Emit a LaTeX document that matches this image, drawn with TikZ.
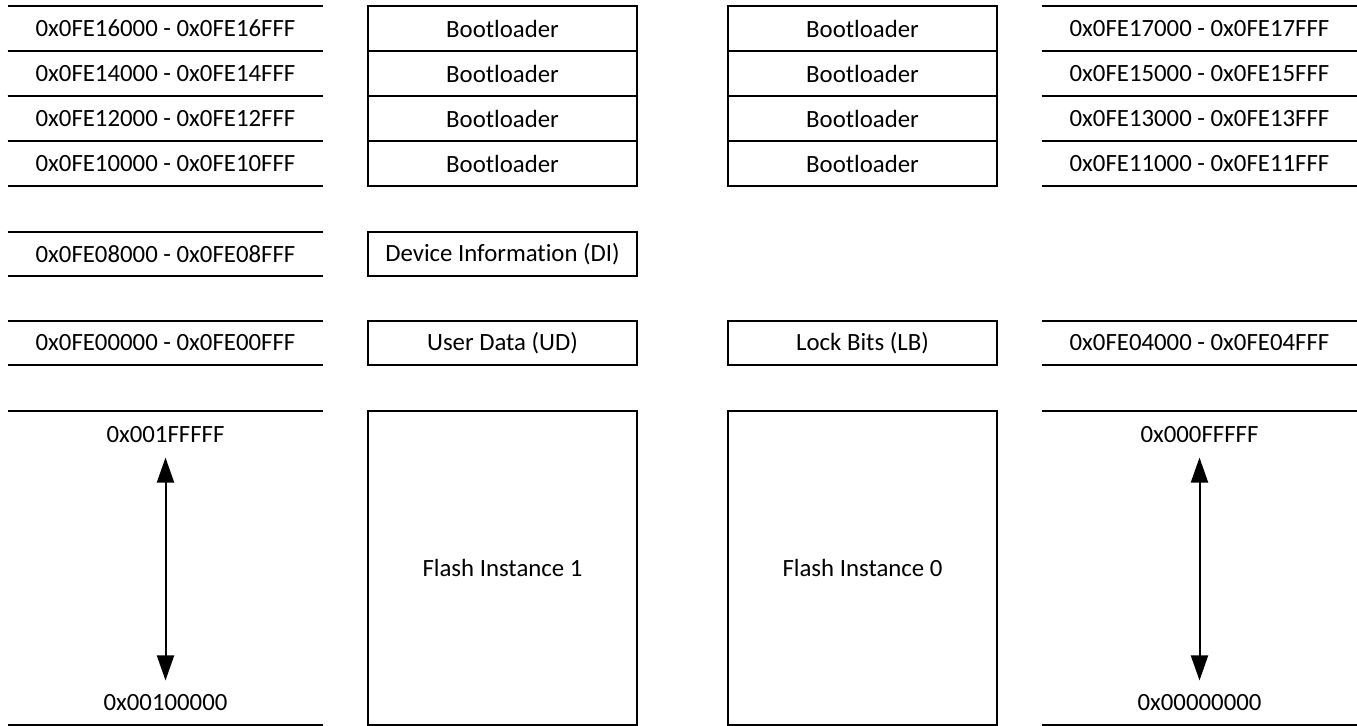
\documentclass[tikz,border=0pt]{standalone}
\usepackage{fontspec}
\setmainfont{Carlito}[Ligatures=NoCommon]
\usetikzlibrary{arrows.meta, positioning}

\begin{document}
\begin{tikzpicture}[x=0.5pt, y=-0.5pt,
	>={Triangle[length=12.5pt, width=8.5pt]},
	every node/.style={font=\fontsize{12.4}{15}\selectfont, inner sep=0pt},
	region/.style={draw, line width=1pt, minimum width=134.5pt, minimum height=22.5pt},
	addr/.style={minimum width=157.5pt, minimum height=22.5pt},
	rule/.style={line width=1pt}]
				% ============================================================
				% 1 jedn. = 1 px obrazka (1357 x 725), os y w dol
				% ============================================================
				\useasboundingbox (0,0) rectangle (1357,725);
				
				% === 1. BOOTLOADER: 4 wiersze po 45 px ===
				\foreach \i/\addL/\addR in {0/16/17, 1/14/15, 2/12/13, 3/10/11} {
					\pgfmathsetmacro{\yc}{28.5 + \i * 45}
					\node[addr] (bl\i) at (165.5, \yc) {0x0FE\addL000 - 0x0FE\addL FFF};
					\node[region] (bootA\i) at (502.5, \yc) {Bootloader};
					\node[region] (bootB\i) at (862.5, \yc) {Bootloader};
					\node[addr] (br\i) at (1199.5, \yc) {0x0FE\addR000 - 0x0FE\addR FFF};
					\draw[rule] (bl\i.north west) -- (bl\i.north east);
					\draw[rule] (bl\i.south west) -- (bl\i.south east);
					\draw[rule] (br\i.north west) -- (br\i.north east);
					\draw[rule] (br\i.south west) -- (br\i.south east);
				}
				
				% === 2. DEVICE INFORMATION ===
				\node[addr, minimum height=22pt] (dil) at (165.5, 254) {0x0FE08000 - 0x0FE08FFF};
				\node[region, minimum height=22pt] (di) at (502.5, 254) {Device Information (DI)};
				\draw[rule] (dil.north west) -- (dil.north east);
				\draw[rule] (dil.south west) -- (dil.south east);
				
				% === 3. USER DATA / LOCK BITS ===
				\node[addr, minimum height=22pt] (udl) at (165.5, 343) {0x0FE00000 - 0x0FE00FFF};
				\node[region, minimum height=22pt] (ud) at (502.5, 343) {User Data (UD)};
				\node[region, minimum height=22pt] (lb) at (862.5, 343) {Lock Bits (LB)};
				\node[addr, minimum height=22pt] (lbr) at (1199.5, 343) {0x0FE04000 - 0x0FE04FFF};
				\draw[rule] (udl.north west) -- (udl.north east);
				\draw[rule] (udl.south west) -- (udl.south east);
				\draw[rule] (lbr.north west) -- (lbr.north east);
				\draw[rule] (lbr.south west) -- (lbr.south east);
				
				% === 4. FLASH ===
				\node[region, minimum height=157pt] (flash1) at (502.5, 567.5) {Flash Instance 1};
				\node[region, minimum height=157pt] (flash0) at (862.5, 567.5) {Flash Instance 0};
				\draw[rule] (8, 410.5) -- (323, 410.5);
				\draw[rule] (8, 724.5) -- (323, 724.5);
				\draw[rule] (1042, 410.5) -- (1357, 410.5);
				\draw[rule] (1042, 724.5) -- (1357, 724.5);
				
				% === 5. ZAKRESY ADRESOW ===
				\node (hi1) at (165.5, 435) {0x001FFFFF};
				\node (lo1) at (165.5, 703) {0x00100000};
				\node (hi0) at (1199.5, 435) {0x000FFFFF};
				\node (lo0) at (1199.5, 703) {0x00000000};
				\draw[<->, line width=1pt, shorten <=7pt, shorten >=7pt] (hi1) -- (lo1);
				\draw[<->, line width=1pt, shorten <=7pt, shorten >=7pt] (hi0) -- (lo0);
				
			\end{tikzpicture}
\end{document}
